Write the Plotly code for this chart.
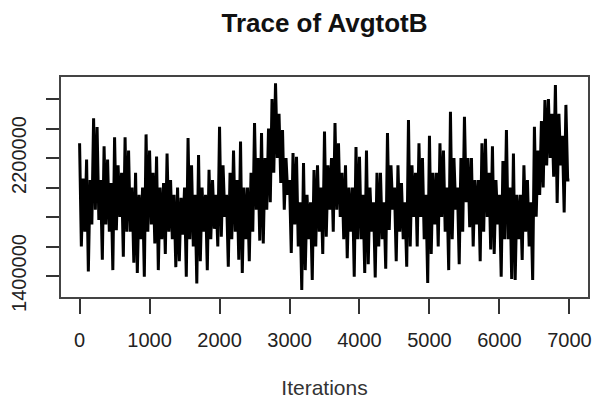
import plotly.graph_objects as go

iter_step = 25
avgtotb = [
    2300000, 1600000, 2060000, 1700000,
    2190000, 1430000, 2050000, 1750000,
    2470000, 1850000, 2410000, 1780000,
    2050000, 1510000, 2280000, 1750000,
    2190000, 1700000, 2030000, 1440000,
    2340000, 1710000, 2150000, 1800000,
    2100000, 1530000, 2340000, 1700000,
    2250000, 1700000, 2000000, 1490000,
    2100000, 1420000, 1950000, 1650000,
    2000000, 1395000, 2360000, 1700000,
    2250000, 1750000, 2100000, 1620000,
    2210000, 1440000, 2000000, 1650000,
    2030000, 1550000, 2230000, 1700000,
    2050000, 1650000, 1950000, 1460000,
    2000000, 1500000, 1930000, 1680000,
    2000000, 1395000, 2335000, 1650000,
    2150000, 1600000, 1950000, 1350000,
    2220000, 1500000, 2000000, 1700000,
    1950000, 1440000, 2120000, 1650000,
    2050000, 1720000, 1950000, 1600000,
    2412000, 1666000, 2150000, 1800000,
    1950000, 1463000, 2100000, 1650000,
    2250000, 1700000, 2050000, 1510000,
    2311000, 1420000, 2000000, 1650000,
    2000000, 1500000, 2100000, 1700000,
    2437000, 1850000, 2200000, 1640000,
    2370000, 1620000, 2200000, 1850000,
    2400000, 1900000, 2600000, 2100000,
    2706000, 2200000, 2500000, 2030000,
    2390000, 1850000, 2200000, 1950000,
    2050000, 1556000, 2234000, 1750000,
    2209000, 1600000, 1900000, 1305000,
    2166000, 1440000, 1950000, 1650000,
    1900000, 1373000, 2119000, 1600000,
    2150000, 1700000, 2000000, 1550000,
    2380000, 1666000, 2150000, 1850000,
    2200000, 1700000, 2437000, 1850000,
    2300000, 1800000, 2100000, 1650000,
    2150000, 1520000, 2000000, 1700000,
    2000000, 1395000, 2275000, 1650000,
    2209000, 1650000, 1950000, 1420000,
    2250000, 1480000, 2000000, 1700000,
    1900000, 1390000, 2100000, 1600000,
    2100000, 1650000, 1900000, 1450000,
    2369000, 1712000, 2150000, 1850000,
    2000000, 1500000, 2150000, 1700000,
    2030000, 1650000, 1900000, 1463000,
    2458000, 1600000, 2150000, 1800000,
    2100000, 1600000, 2300000, 1800000,
    2200000, 1650000, 1950000, 1352000,
    2350000, 1550000, 2100000, 1750000,
    2100000, 1600000, 2300000, 1800000,
    2250000, 1700000, 2000000, 1440000,
    2514000, 1650000, 2200000, 1850000,
    2000000, 1480000, 2200000, 1700000,
    2480000, 1900000, 2200000, 1730000,
    2200000, 1600000, 2050000, 1750000,
    2050000, 1500000, 2300000, 1700000,
    2330000, 1800000, 2100000, 1580000,
    2280000, 1550000, 2050000, 1750000,
    1950000, 1395000, 2180000, 1650000,
    2390000, 1650000, 2000000, 1380000,
    2230000, 1373000, 1950000, 1650000,
    1950000, 1508000, 2150000, 1700000,
    2050000, 1600000, 1900000, 1373000,
    2412000, 1802000, 2250000, 1950000,
    2450000, 2000000, 2593000, 2150000,
    2600000, 2200000, 2500000, 2073000,
    2695000, 1895000, 2500000, 2150000,
    2350000, 1830000, 2560000, 2050000,
    2050000,
]
iterations = [i * iter_step for i in range(len(avgtotb))]

x_ticks = [0, 1000, 2000, 3000, 4000, 5000, 6000, 7000]
y_ticks = [1400000, 1600000, 1800000, 2000000, 2200000, 2400000, 2600000]
y_tick_labels = ["1400000", "", "", "", "2200000", "", ""]

FONT = "Liberation Sans, Arial, Helvetica, sans-serif"

fig = go.Figure()
fig.add_trace(go.Scatter(
    x=iterations, y=avgtotb, mode="lines",
    line=dict(color="black", width=3),
    hoverinfo="skip", showlegend=False,
))

fig.update_layout(
    width=597, height=404,
    margin=dict(l=60, r=5, t=76, b=106),
    paper_bgcolor="white", plot_bgcolor="white",
    font=dict(family=FONT, size=20, color="#222"),
    title=dict(
        text="<b>Trace of AvgtotB</b>",
        font=dict(family=FONT, size=26, color="#111"),
        x=0.5, xref="paper", xanchor="center",
        y=1 - 23 / 404, yref="container", yanchor="middle",
    ),
    xaxis=dict(
        range=[-280, 7280], tickvals=x_ticks,
        ticktext=[str(v) for v in x_ticks],
        showgrid=False, zeroline=False, showline=False,
        ticks="outside", ticklen=15, tickwidth=2, tickcolor="#333",
        ticklabelstandoff=9,
        title=dict(text="Iterations", standoff=30, font=dict(size=21, color="#333")),
    ),
    yaxis=dict(
        range=[1250847, 2755932], tickvals=y_ticks, ticktext=y_tick_labels,
        tickangle=-90,
        showgrid=False, zeroline=False, showline=False,
        ticks="outside", ticklen=13, tickwidth=2, tickcolor="#333",
        ticklabelstandoff=12,
    ),
    shapes=[dict(
        type="rect", xref="paper", yref="paper", x0=0, x1=1, y0=0, y1=1,
        line=dict(color="#444", width=2),
    )],
)

fig.write_html("out.html")
